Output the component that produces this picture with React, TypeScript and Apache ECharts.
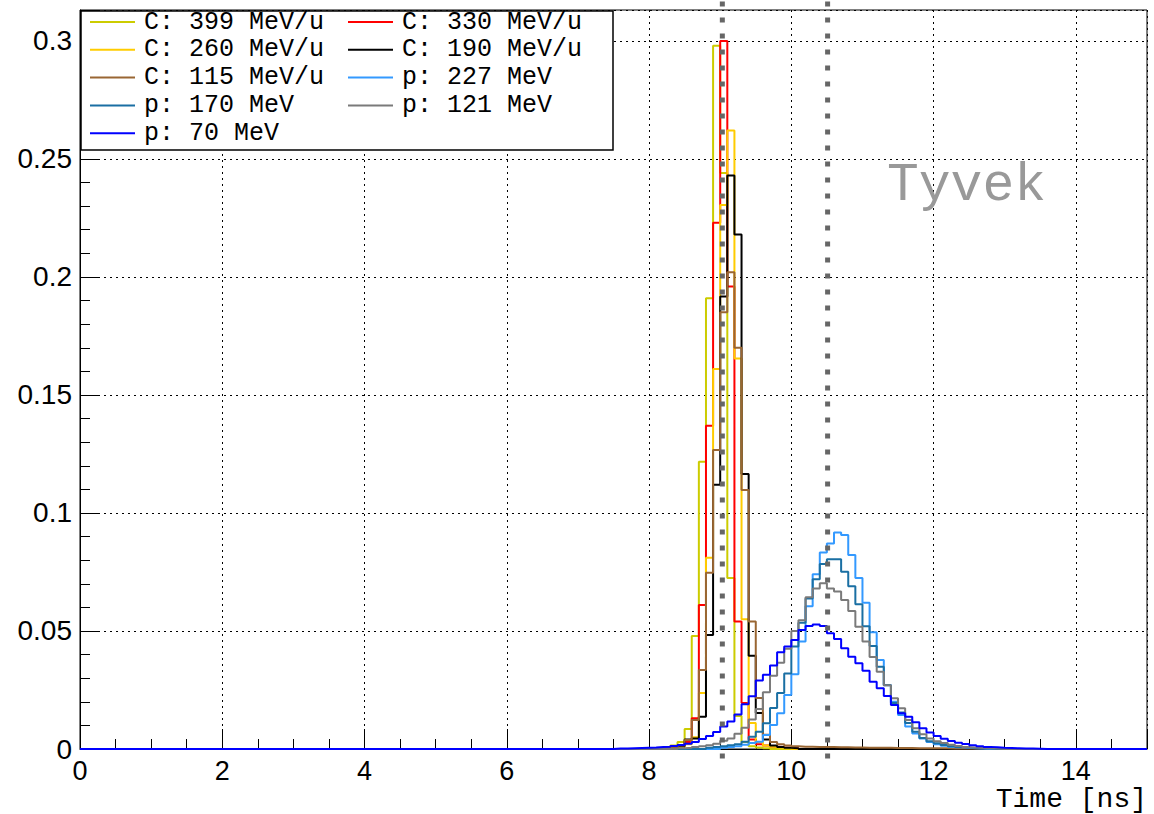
import React, { useEffect, useRef } from "react";
import * as echarts from "echarts";

// ---- histogram binning ----
const BIN_WIDTH = 0.1;
const N_BINS = 150;
const X_MAX = 15;
const Y_MAX = 0.3131;

// ---- series metadata ----
const SERIES_NAMES = [
  "C: 399 MeV/u",
  "C: 330 MeV/u",
  "C: 260 MeV/u",
  "C: 190 MeV/u",
  "C: 115 MeV/u",
  "p: 227 MeV",
  "p: 170 MeV",
  "p: 121 MeV",
  "p: 70 MeV",
];
const SERIES_COLORS = [
  "#cccc00",
  "#ff0000",
  "#ffcc00",
  "#000000",
  "#996633",
  "#3399ff",
  "#1a6fa3",
  "#7a7a7a",
  "#0000ff",
];
// time [ns] of the first listed bin of each series (all other bins are empty)
const SERIES_START = [8.0, 8.0, 8.2, 8.2, 8.2, 9.0, 8.8, 8.4, 7.5];

// ---- bin contents ----
const c399 = [0.0003, 0.0005, 0.0008, 0.0015, 0.003, 0.0085, 0.0479, 0.1217, 0.191, 0.298, 0.244, 0.0724, 0.014, 0.003, 0.0012, 0.0006, 0.0003];
const c330 = [0.0002, 0.0003, 0.0005, 0.0008, 0.0015, 0.003, 0.013, 0.061, 0.137, 0.223, 0.3, 0.196, 0.054, 0.0195, 0.004, 0.002, 0.0015, 0.001, 0.0008, 0.0005, 0.0003];
const c260 = [0.0003, 0.0005, 0.001, 0.002, 0.005, 0.0237, 0.081, 0.161, 0.2305, 0.262, 0.1655, 0.055, 0.011, 0.003, 0.0015, 0.001, 0.0006, 0.0003];
const c190 = [0.0003, 0.0006, 0.0012, 0.004, 0.0045, 0.0137, 0.0483, 0.112, 0.1917, 0.243, 0.218, 0.1165, 0.0395, 0.0152, 0.004, 0.0015, 0.0008, 0.0005, 0.0003];
const c115 = [0.0004, 0.0008, 0.0015, 0.0038, 0.0123, 0.0335, 0.0747, 0.1267, 0.185, 0.202, 0.17, 0.1097, 0.054, 0.0216, 0.006, 0.003, 0.002, 0.0015, 0.0012, 0.001, 0.001, 0.0009, 0.0008, 0.0008, 0.0007, 0.0007, 0.0006, 0.0006, 0.0005, 0.0005, 0.0005, 0.0005, 0.0004, 0.0004, 0.0004, 0.0003, 0.0003, 0.0003, 0.0003, 0.0003, 0.0002, 0.0002, 0.0002, 0.0002, 0.0002];
const p227 = [0.0005, 0.0008, 0.0012, 0.0018, 0.0025, 0.0031, 0.0059, 0.0102, 0.0151, 0.0229, 0.0317, 0.0455, 0.0605, 0.074, 0.0833, 0.0871, 0.0917, 0.0907, 0.0822, 0.0725, 0.062, 0.0495, 0.0377, 0.0271, 0.02, 0.0144, 0.0095, 0.0066, 0.0045, 0.003, 0.002, 0.0014, 0.001, 0.0007, 0.0005, 0.0003, 0.0002];
const p170 = [0.0005, 0.0008, 0.0012, 0.0016, 0.002, 0.0031, 0.0052, 0.0073, 0.0109, 0.0174, 0.0237, 0.032, 0.0434, 0.0535, 0.0638, 0.0719, 0.0784, 0.0804, 0.0804, 0.0751, 0.069, 0.0613, 0.052, 0.0436, 0.0349, 0.027, 0.0195, 0.0155, 0.011, 0.0073, 0.0047, 0.0033, 0.0024, 0.0017, 0.0012, 0.0008, 0.0006, 0.0004, 0.0003, 0.0002];
const p121 = [0.0003, 0.0005, 0.0008, 0.0012, 0.0016, 0.0022, 0.0035, 0.0045, 0.0065, 0.009, 0.0125, 0.017, 0.024, 0.031, 0.0365, 0.0425, 0.05, 0.0545, 0.0643, 0.068, 0.0702, 0.068, 0.0667, 0.0631, 0.0585, 0.0518, 0.0455, 0.039, 0.0327, 0.027, 0.0215, 0.0173, 0.0123, 0.0088, 0.0062, 0.0045, 0.0033, 0.0025, 0.0018, 0.0013, 0.0009, 0.0006, 0.0004, 0.0003, 0.0002];
const p70 = [0.0002, 0.0002, 0.0003, 0.0004, 0.0005, 0.0006, 0.0008, 0.001, 0.0013, 0.0017, 0.0022, 0.003, 0.0042, 0.0055, 0.0072, 0.0095, 0.0117, 0.0146, 0.019, 0.0223, 0.029, 0.0315, 0.0354, 0.041, 0.0434, 0.0462, 0.0504, 0.0521, 0.0528, 0.0521, 0.049, 0.0466, 0.0427, 0.0391, 0.0363, 0.0332, 0.0285, 0.0257, 0.0225, 0.0186, 0.0151, 0.0137, 0.0113, 0.0088, 0.007, 0.0055, 0.0043, 0.0034, 0.0027, 0.0021, 0.0016, 0.0012, 0.0009, 0.0007, 0.0005, 0.0004, 0.0003, 0.0002, 0.0002, 0.0001];
const SERIES_VALUES = [c399, c330, c260, c190, c115, p227, p170, p121, p70];

// ---- annotations ----
const MARKER_TIMES = [9.03, 10.51];
const X_TITLE = "Time [ns]";
const MATERIAL_LABEL = "Tyvek";

function buildHist(start: number, values: number[]): [number, number][] {
  const startIdx = Math.round(start / BIN_WIDTH);
  const pts: [number, number][] = [];
  for (let i = 0; i < N_BINS; i++) {
    const k = i - startIdx;
    const v = k >= 0 && k < values.length ? values[k] : 0;
    pts.push([Math.round(i) / 10, v]);
  }
  pts.push([X_MAX, pts[pts.length - 1][1]]);
  return pts;
}

const SANS = "'Liberation Sans', Arial, Helvetica, sans-serif";
const MONO = "'Liberation Mono', 'Courier New', monospace";

export default function App() {
  const ref = useRef<HTMLDivElement>(null);

  useEffect(() => {
    if (!ref.current) return;
    const chart = echarts.init(ref.current, null, { renderer: "svg" });

    const series = SERIES_NAMES.map((name, idx) => ({
      type: "line",
      name,
      data: buildHist(SERIES_START[idx], SERIES_VALUES[idx]),
      step: "end",
      showSymbol: false,
      symbol: "none",
      color: SERIES_COLORS[idx],
      lineStyle: { color: SERIES_COLORS[idx], width: 2 },
      itemStyle: { color: SERIES_COLORS[idx] },
      clip: true,
      silent: true,
      xAxisIndex: 0,
      yAxisIndex: 0,
    }));

    const legendBase = {
      orient: "vertical",
      top: 9.5,
      itemWidth: 45,
      itemHeight: 2,
      itemGap: 2.8,
      icon: "rect",
      selectedMode: false,
      padding: 0,
      z: 6,
      textStyle: {
        fontFamily: MONO,
        fontSize: 25,
        lineHeight: 25,
        color: "#000",
        padding: [0, 0, 0, 4],
      },
    };

    const tickStyle = { color: "#000", width: 1 };
    const gridLine = { color: "#000", width: 1, type: [2, 4] };

    chart.setOption({
      animation: false,
      backgroundColor: "#fff",
      grid: {
        left: 80,
        right: 7,
        top: 10,
        bottom: 65,
        show: true,
        borderColor: "#000",
        borderWidth: 1,
        backgroundColor: "transparent",
        containLabel: false,
        outerBoundsMode: "none",
      },
      legend: [
        { ...legendBase, left: 90, data: [0, 2, 4, 6, 8].map((i) => SERIES_NAMES[i]) },
        { ...legendBase, left: 348, data: [1, 3, 5, 7].map((i) => SERIES_NAMES[i]) },
      ],
      xAxis: [
        {
          type: "value",
          min: 0,
          max: X_MAX,
          interval: 2,
          position: "bottom",
          axisLine: { show: true, onZero: false, lineStyle: tickStyle },
          axisTick: { show: true, inside: true, length: 20, lineStyle: tickStyle },
          minorTick: { show: false },
          axisLabel: {
            show: true,
            margin: 8,
            color: "#000",
            fontFamily: SANS,
            fontSize: 27,
            lineHeight: 27,
            formatter: (v: number) => (v > 14.5 ? "" : String(v)),
          },
          splitLine: { show: true, lineStyle: gridLine },
        },
        {
          type: "value",
          min: 0,
          max: X_MAX,
          interval: 0.5,
          position: "bottom",
          axisLine: { show: false },
          axisTick: { show: true, inside: true, length: 10, lineStyle: tickStyle },
          axisLabel: { show: false },
          splitLine: { show: false },
        },
      ],
      yAxis: [
        {
          type: "value",
          min: 0,
          max: Y_MAX,
          interval: 0.05,
          position: "left",
          axisLine: { show: true, onZero: false, lineStyle: tickStyle },
          axisTick: { show: true, inside: true, length: 20, lineStyle: tickStyle },
          minorTick: { show: false },
          axisLabel: {
            show: true,
            margin: 8,
            color: "#000",
            fontFamily: SANS,
            fontSize: 28,
            formatter: (v: number) => (v > 0.301 ? "" : String(+v.toFixed(2))),
          },
          splitLine: { show: true, lineStyle: gridLine },
        },
        {
          type: "value",
          min: 0,
          max: Y_MAX,
          interval: 0.01,
          position: "left",
          axisLine: { show: false },
          axisTick: { show: true, inside: true, length: 10, lineStyle: tickStyle },
          axisLabel: { show: false },
          splitLine: { show: false },
        },
      ],
      series,
    });

    const markerX = MARKER_TIMES.map((t) => chart.convertToPixel({ xAxisIndex: 0 }, t) as number);

    chart.setOption({
      graphic: [
        {
          type: "rect",
          id: "legendBox",
          z: 5,
          shape: { x: 81, y: 11, width: 532, height: 139 },
          style: { fill: "#fff", stroke: "#000", lineWidth: 1.5 },
          silent: true,
        },
        ...markerX.map((x, i) => ({
          type: "line",
          id: "marker" + i,
          z: 10,
          shape: { x1: x, y1: 1.5, x2: x, y2: 760 },
          style: { stroke: "#666666", lineWidth: 5, lineDash: [5, 11] },
          silent: true,
        })),
        {
          type: "text",
          id: "material",
          z: 10,
          x: 887,
          y: 186,
          style: {
            text: MATERIAL_LABEL,
            fill: "#999999",
            font: `53px ${MONO}`,
            align: "left",
            verticalAlign: "middle",
          },
          silent: true,
        },
        {
          type: "text",
          id: "xtitle",
          z: 10,
          x: 1147,
          y: 799,
          style: {
            text: X_TITLE,
            fill: "#000",
            font: `28px ${MONO}`,
            lineHeight: 26,
            align: "right",
            verticalAlign: "middle",
          },
          silent: true,
        },
      ],
    });

    return () => chart.dispose();
  }, []);

  return (
    <div
      ref={ref}
      style={{ position: "absolute", left: 0, top: 0, width: 1154, height: 814, background: "#fff" }}
    />
  );
}
